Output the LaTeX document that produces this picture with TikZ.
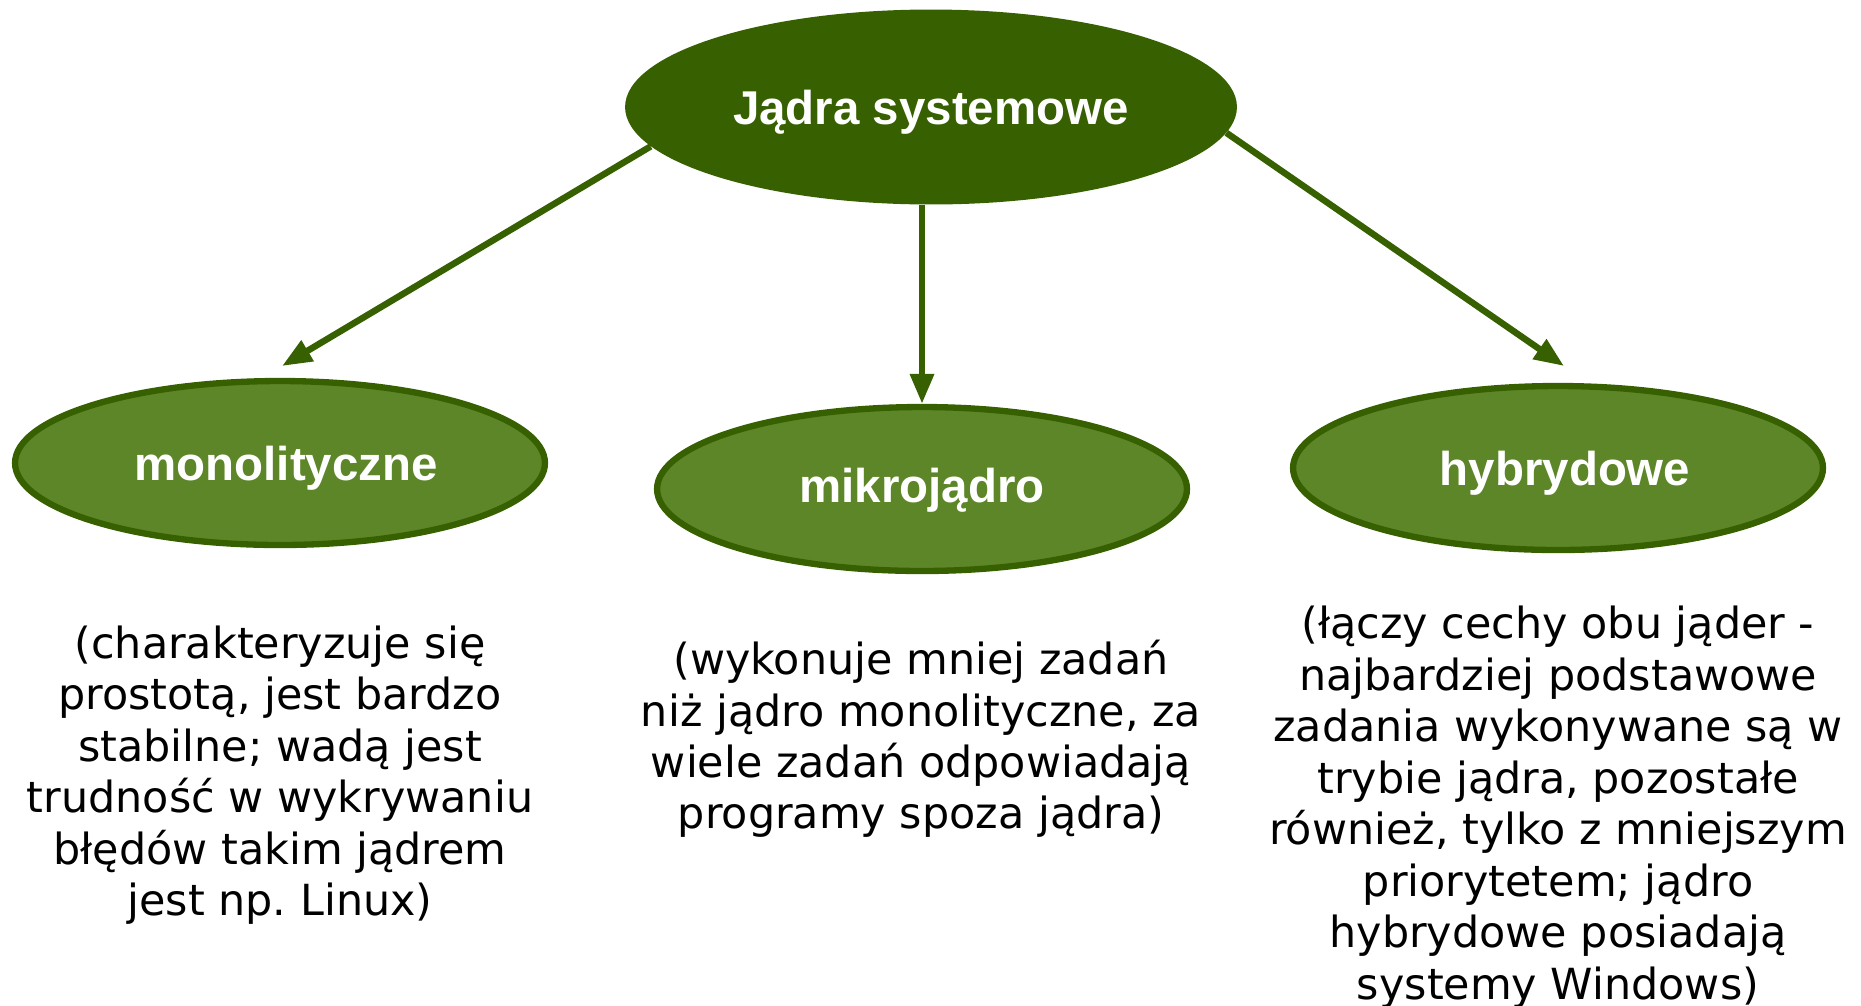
\documentclass[tikz,border=0pt]{standalone}
\usepackage{fontspec}
\setmainfont{DejaVu Sans}
\newfontfamily\labelfont{Liberation Sans}
\usetikzlibrary{shapes.geometric, arrows.meta}
\definecolor{darkleaf}{RGB}{55,96,0}
\definecolor{leaf}{RGB}{93,134,41}
\frenchspacing

\begin{document}
\begin{tikzpicture}[x = 0.02cm, y = -0.02cm,
  root/.style = {ellipse, fill=darkleaf, minimum width=12.24cm, minimum height=3.9cm,
    text=white, text depth=0pt, font=\labelfont\bfseries\fontsize{27}{32}\selectfont},
  kind/.style = {ellipse, draw=darkleaf, line width=3.6pt, fill=leaf,
    minimum width=10.6cm, minimum height=3.28cm, text=white, text depth=0pt,
    font=\labelfont\bfseries\fontsize{27}{32}\selectfont},
  note/.style = {align=center, inner sep=0pt, font=\fontsize{24.4}{29.3}\selectfont},
  arr/.style = {darkleaf, line width=3.7pt, -{Triangle[length=17pt, width=13pt]}}]
\useasboundingbox (0,0) rectangle (1861,1005);

% ellipses
\node[root] (jadra) at (931,107) {Jądra systemowe};
\node[kind] (mono) at (280,463) {\hspace*{7pt}monolityczne};
\node[kind, text depth=4.6pt] (mikro) at (922,489) {mikrojądro};
\node[kind] (hyb) at (1558,468) {\hspace*{8pt}hybrydowe};

% arrow ends above the ellipses
\coordinate (monoin) at (282,366);
\coordinate (hybin) at (1564,366);

% arrows
\draw[arr] (jadra.188) -- (monoin);
\draw[arr] (mikro.north |- jadra.south) -- (mikro.north);
\draw[arr] (jadra.355) -- (hybin);

% descriptions
\node[note] (monotxt) at (280,775) {(charakteryzuje się\\prostotą, jest bardzo\\stabilne; wadą jest\\trudność w wykrywaniu\\błędów takim jądrem\\jest np. Linux)};
\node[note] (mikrotxt) at (921,739) {(wykonuje mniej zadań\\niż jądro monolityczne, za\\wiele zadań odpowiadają\\programy spoza jądra)};
\node[note] (hybtxt) at (1558,807) {(łączy cechy obu jąder -\\najbardziej podstawowe\\zadania wykonywane są w\\trybie jądra, pozostałe\\również, tylko z mniejszym\\priorytetem; jądro\\hybrydowe posiadają\\systemy Windows)};

\end{tikzpicture}
\end{document}
